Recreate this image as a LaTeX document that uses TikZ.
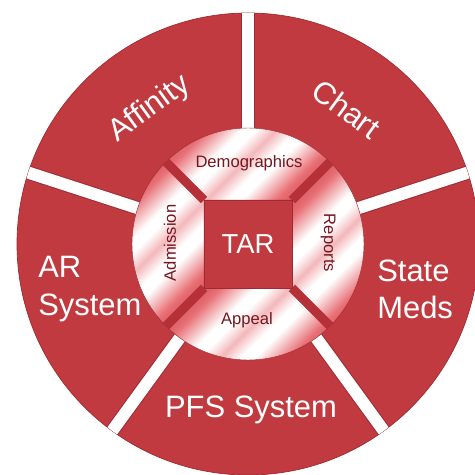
\documentclass[tikz,border=0pt]{standalone}
\usepackage{fontspec}
\setmainfont[Ligatures=NoCommon]{Liberation Sans}
\definecolor{wheelred}{RGB}{192,58,64}
\definecolor{wheeledge}{RGB}{160,42,50}
\definecolor{spokered}{RGB}{182,48,56}
\definecolor{labelred}{RGB}{118,22,32}
\definecolor{ringpink}{RGB}{232,112,118}
\pgfdeclarehorizontalshading{ringshade}{100bp}{
 color(0bp)=(wheelred); color(18bp)=(wheelred); color(30bp)=(ringpink);
 color(40bp)=(white); color(44bp)=(white); color(50bp)=(ringpink!50!white);
 color(56bp)=(white); color(60bp)=(white); color(70bp)=(ringpink);
 color(82bp)=(wheelred); color(100bp)=(wheelred)}
\begin{document}
\begin{tikzpicture}[
 x=0.025cm,y=0.025cm,
 every node/.style={inner sep=0pt},
 sectorlabel/.style={text=white,font=\fontsize{22}{26.5}\selectfont,align=left},
 ringlabel/.style={text=labelred,font=\fontsize{11.8}{14}\selectfont},
 ringpart/.style={shading=ringshade,shading angle=-45,draw=wheeledge,line width=0.3pt}
]
 \useasboundingbox (-248,-231) rectangle (227,244);

 % outer wheel, cut into five by white gaps
 \fill[wheelred,draw=wheeledge,line width=0.5pt] (0,0) circle (231);
 \begin{scope}
  \clip (0,0) circle (231);
  \foreach \a in {18,90,162,234,306}{
   \draw[wheeledge,line width=10pt] (\a:100) -- (\a:240);
   \draw[white,line width=8.6pt] (\a:100) -- (\a:240);
  }
 \end{scope}

 % inner ring: four shaded parts round the square
 \path[ringpart,shade,draw] (-44,44) -- (135:116) arc (135:45:116) -- (44,44) -- cycle;
 \path[ringpart,shade,draw] (-44,-44) -- (225:116) arc (225:135:116) -- (-44,44) -- cycle;
 \path[ringpart,shade,draw] (44,-44) -- (315:116) arc (315:225:116) -- (-44,-44) -- cycle;
 \path[ringpart,shade,draw] (44,44) -- (45:116) arc (45:-45:116) -- (44,-44) -- cycle;
 \foreach \a in {45,135,225,315}
  \draw[spokered,line width=6.4pt] (\a:62.2) -- (\a:116);

 \node[draw=wheeledge,fill=wheelred,line width=0.5pt,minimum size=2.2cm,
  text=white,font=\fontsize{19.5}{22}\selectfont] (tar) at (0,0) {TAR};

 \node[ringlabel] (demographics) at (1,81) {Demographics};
 \node[ringlabel] (appeal) at (-1,-76) {Appeal};
 \node[ringlabel,rotate=90] (admission) at (-78,1) {Admission};
 \node[ringlabel,rotate=-90] (reports) at (80,1) {Reports};

 \node[sectorlabel,rotate=36] (affinity) at (126:167) {Affinity};
 \node[sectorlabel,rotate=-36] (chart) at (54:167) {Chart};
 \node[sectorlabel,anchor=west] (arsystem) at (-210,-45) {AR\\System};
 \node[sectorlabel,anchor=west] (statemeds) at (129,-45) {State\\Meds};
 \node[sectorlabel] (pfssystem) at (3,-166) {PFS System};
\end{tikzpicture}
\end{document}
